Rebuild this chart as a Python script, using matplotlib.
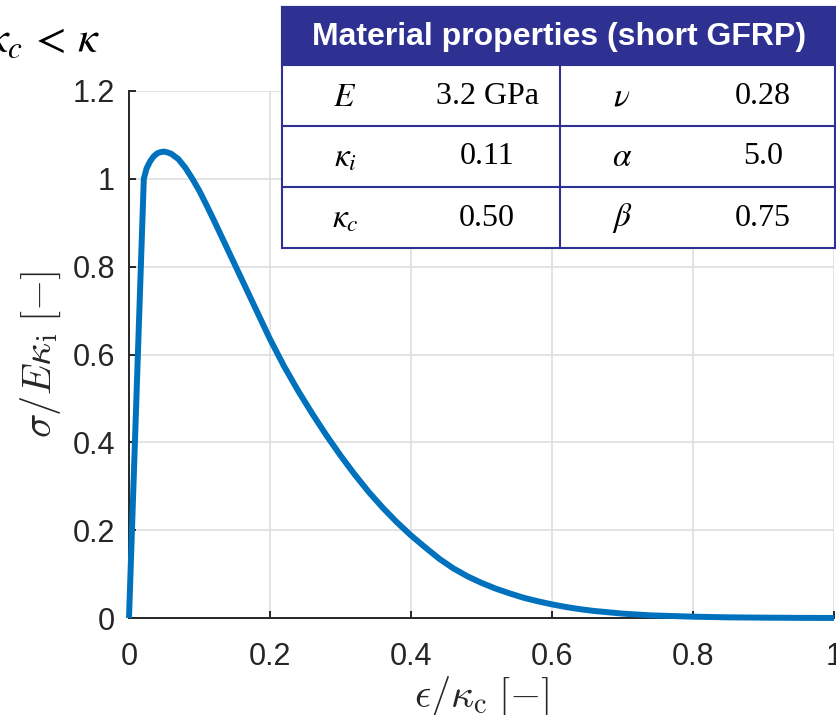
import matplotlib
matplotlib.use('Agg')
from matplotlib import pyplot as plt
from matplotlib.patches import Rectangle

# Normalised stress-strain response of the softening material
strain = [0.0, 0.021, 0.025, 0.03, 0.035, 0.04, 0.045, 0.05, 0.055, 0.06,
          0.07, 0.08, 0.09, 0.10, 0.11, 0.12, 0.13, 0.14, 0.15, 0.16,
          0.17, 0.18, 0.19, 0.20, 0.22, 0.24, 0.26, 0.28, 0.30, 0.32,
          0.34, 0.36, 0.38, 0.40, 0.42, 0.44, 0.46, 0.48, 0.50, 0.52,
          0.54, 0.56, 0.58, 0.60, 0.62, 0.64, 0.66, 0.68, 0.70, 0.72,
          0.74, 0.77, 0.80, 0.85, 0.90, 0.95, 1.0]
stress = [0.0, 1.0, 1.024, 1.040, 1.051, 1.058, 1.061, 1.062, 1.060, 1.057,
          1.045, 1.025, 1.000, 0.972, 0.940, 0.907, 0.873, 0.839, 0.805, 0.771,
          0.737, 0.703, 0.669, 0.635, 0.573, 0.517, 0.465, 0.416, 0.370, 0.327,
          0.287, 0.251, 0.218, 0.188, 0.161, 0.135, 0.113, 0.095, 0.080, 0.067,
          0.056, 0.046, 0.038, 0.031, 0.025, 0.020, 0.016, 0.013, 0.010, 0.008,
          0.006, 0.0045, 0.003, 0.0015, 0.0008, 0.0003, 0.0001]

x_ticks = [0, 0.2, 0.4, 0.6, 0.8, 1]
x_tick_labels = ['0', '0.2', '0.4', '0.6', '0.8', '1']
y_ticks = [0, 0.2, 0.4, 0.6, 0.8, 1, 1.2]
y_tick_labels = ['0', '0.2', '0.4', '0.6', '0.8', '1', '1.2']

table_title = 'Material properties (short GFRP)'
table_symbols = [[r'$E$', r'$\nu$'],
                 [r'$\kappa_i$', r'$\alpha$'],
                 [r'$\kappa_c$', r'$\beta$']]
table_values = [['3.2 GPa', '0.28'],
                ['0.11', '5.0'],
                ['0.50', '0.75']]

W, H = 836, 715
dark = '#262626'
navy = '#2E3192'

fig = plt.figure(figsize=(W / 100, H / 100), dpi=100)
ax = fig.add_axes([129 / W, 1 - 618 / H, 705 / W, 527 / H])

ax.plot(strain, stress, color='#0072BD', lw=4.3, clip_on=False, zorder=3,
        solid_joinstyle='round', solid_capstyle='butt')

ax.set_xlim(0, 1)
ax.set_ylim(0, 1.2)
ax.set_xticks(x_ticks, x_tick_labels)
ax.set_yticks(y_ticks, y_tick_labels)
ax.grid(True, color='#dedede', lw=1.2)
ax.set_axisbelow(True)
for side in ['top', 'right']:
    ax.spines[side].set_visible(False)
for side in ['left', 'bottom']:
    ax.spines[side].set_color(dark)
    ax.spines[side].set_linewidth(1.4)
ax.tick_params(axis='both', direction='in', length=5, width=1.4,
               colors=dark, labelsize=22)
ax.tick_params(axis='x', pad=17)
ax.tick_params(axis='y', pad=10)
for lab in ax.get_xticklabels() + ax.get_yticklabels():
    lab.set_fontfamily('Liberation Sans')

ax.set_xlabel(r'$\epsilon/\kappa_\mathrm{c}\;[-]$', fontsize=29,
              math_fontfamily='cm', color=dark)
ax.set_ylabel(r'$\sigma/E\kappa_\mathrm{i}\;[-]$', fontsize=29,
              math_fontfamily='cm', color=dark)
ax.xaxis.set_label_coords(0.5, -0.108)
ax.yaxis.set_label_coords(-0.094, 0.5)

# Heading in the top-left corner (runs off the left edge)
fig.text(100 / W, 1 - 52 / H, r'$\kappa_c\,<\,\kappa$', ha='right',
         va='baseline', fontsize=32, math_fontfamily='stix', color='black')

# Property table drawn in pixel coordinates on an overlay
tab = fig.add_axes([0, 0, 1, 1], zorder=5)
tab.set_xlim(0, W)
tab.set_ylim(H, 0)
tab.axis('off')

left, right, top, head_bot, bottom = 282, 835, 7, 65, 248
row_lines = [126, 187]
tab.add_patch(Rectangle((left, top), right - left, bottom - top,
                        facecolor='white', edgecolor=navy, lw=1.5))
tab.add_patch(Rectangle((left, top), right - left, head_bot - top,
                        facecolor=navy, edgecolor=navy, lw=1.5))
for yl in row_lines:
    tab.plot([left, W], [yl, yl], color=navy, lw=1.5)
tab.plot([560, 560], [head_bot, bottom], color=navy, lw=1.5)

tab.text((left + W) / 2, (top + head_bot) / 2 + 1, table_title,
         color='white', fontsize=23, fontweight='bold',
         family='Liberation Sans', ha='center', va='center')

row_mid = [96, 157, 218]
sym_x = [345, 622]
val_x = [487, 763]
for r in range(3):
    for c in range(2):
        tab.text(sym_x[c], row_mid[r], table_symbols[r][c], fontsize=24,
                 math_fontfamily='stix', ha='center', va='center')
        tab.text(val_x[c], row_mid[r], table_values[r][c], fontsize=23,
                 family='Liberation Serif', ha='center', va='center')

fig.savefig('out.png', dpi=100)
